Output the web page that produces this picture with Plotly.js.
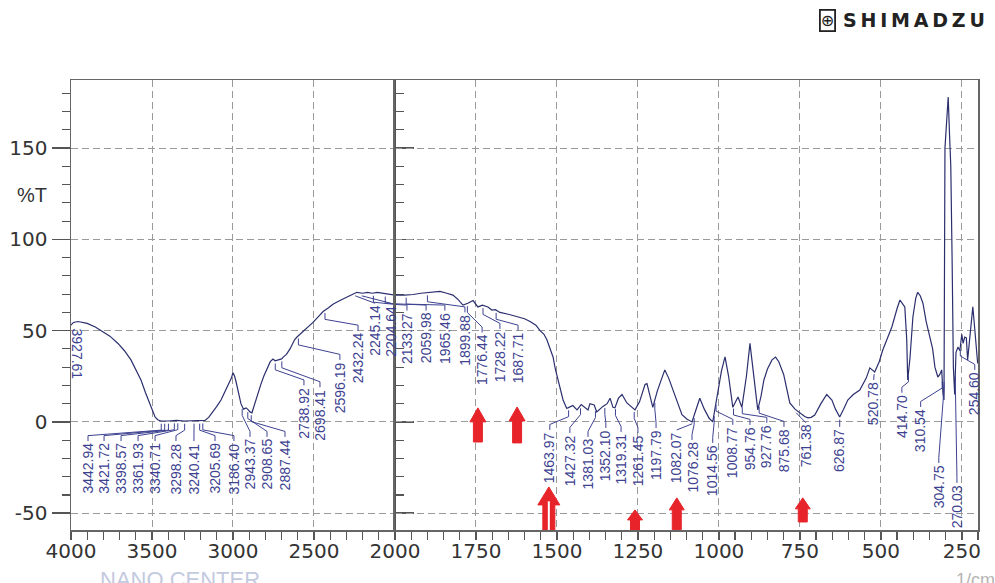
<!DOCTYPE html>
<html><head><meta charset="utf-8">
<script src="https://cdn.plot.ly/plotly-3.0.1.min.js"></script>
<style>html,body{margin:0;padding:0;background:#fff}#chart{width:995px;height:583px}</style>
</head><body><div id="chart"></div>
<script>
// ---- spectrum (wavenumber 1/cm, %T) ----
const wavenumber = [4000,3985,3957,3900,3850,3815,3760,3710,3670,3630,3600,3568,3540,3512,3495,3481,3465,3444,3400,3350,3300,3250,3200,3173,3150,3136,3100,3074,3040,3010,3000,2990,2981,2965,2951,2935,2920,2910,2895,2883,2870,2850,2830,2810,2790,2770,2753,2740,2720,2700,2690,2670,2648,2620,2605,2586,2560,2530,2506,2470,2444,2410,2383,2340,2300,2270,2235,2200,2170,2140,2110,2080,2050,2020,2000,
1970,1944,1920,1890,1861,1840,1821,1805,1790,1775,1759,1744,1730,1713,1701,1690,1676,1650,1630,1614,1600,1583,1565,1552,1540,1531,1520,1512,1505,1497,1490,1481,1470,1466,1451,1438,1425,1415,1404,1398,1385,1377,1358,1345,1336,1327,1321,1310,1299,1284,1259,1245,1228,1222,1210,1204,1190,1167,1155,1142,1130,1114,1098,1083,1072,1059,1045,1030,1019,1005,992,981,970,957,950,941,929,915,904,895,880,870,861,850,836,825,815,800,781,765,750,735,725,715,704,685,667,651,640,627,615,602,585,565,545,534,519,505,494,480,466,450,441,430,426,420,417,410,401,392,386,378,370,360,349,340,333,324,318,312,308,305,302,298,292,288,284,280,276,272,268,262,256,250,246,241,236,232,226,221,216,212,208,204,201];
const transmittance = [53,54.5,55,54,52,50,47,43,39,34,29,23,16,10,5.5,2.7,1.2,0.5,0.5,0.8,0.5,0.6,0.5,0.8,2.5,4,8.5,12,18,24,27,25,22,15,10,7,7.7,7,5.5,5,9,15,20,25,29,33,34.5,33.5,34,34.5,35.5,37,40,45,46.5,48,50,52.5,54.5,58,60.5,62.5,64.5,66.5,68,69.5,71,70.5,71,70.5,71,70.5,70,69.5,69.5,
69.5,69.8,70.5,71,71.5,70.5,69.5,67,64,65,66.5,63,64,63,61.3,61.5,60,59,58,57,56.5,55,53,50,48,45,40,35.6,29,23,17,12,7.5,7.7,9,6.6,9.5,8,6.6,10,9.3,5.5,8.5,10,13,8,7.7,13,15,10.4,6.6,11,20.5,21,12,8,17,28.5,24,17.5,12,4,1.5,0,6,13,7,2,0,15,28,35.6,25,8,10.5,13.7,8,25,43,28,6.6,14,23,29,34,35.5,33,26,10.4,7,5,3,2.2,2.5,3.8,10,15,12,7,2.7,7,12,15,17.5,24,29.6,27.4,33,39.4,46,52,62,66.8,64,63,45,23,35,57.5,68,71,69,65,55,46.5,40,30,24.6,26,28.5,15,12,150,160,178,158,140,90,30,15,38,41,39,48,43,46.5,46,34,45,50,63,55,45,40,32];

// ---- peak labels ----
const peakLabels = ["3927.61","3442.94","3421.72","3398.57","3361.93","3340.71","3298.28","3240.41","3205.69","3186.40","2943.37","2908.65","2887.44","2738.92","2698.41","2596.19","2432.24","2245.14","2204.64","2133.27","2059.98","1965.46","1899.88","1776.44","1728.22","1687.71","1463.97","1427.32","1381.03","1352.10","1319.31","1261.45","1197.79","1082.07","1076.28","1014.56","1008.77","954.76","927.76","875.68","761.38","626.87","520.78","414.70","310.54","304.75","270.03","254.60"];

// ---- axis ticks ----
const xTicksHigh = [4000,3500,3000,2500];
const xTicksLow = [2000,1750,1500,1250,1000,750,500,250];
const yTicks = [-50,0,50,100,150];

// ---- label placement (where each rotated label sits: wavenumber of its centre, %T of its top end) ----
const labelWn = [3957,3895,3796,3691,3586,3481,3352,3241,3111,2994,2895,2790,2679,2562,2463,2340,2228,2123,2025,1963,1904,1846,1784,1731,1676,1620,1522,1460,1404,1349,1302,1250,1194,1130,1083,1019,957,904,852,799,731,627,522,435,377,321,265,210];
const labelTop = [52,-10.5,-10.5,-10.5,-10.5,-10.5,-10.5,-10.5,-10.5,-10.5,-8.2,-8.2,-8.2,20,19,34,50,65,65,61,61,61,60,49,51,50,-4.4,-6,-8.2,-3.3,-5.5,-6,-3.3,-4.4,-9.9,-11.5,-1.6,-1.6,-0.5,-2.7,-0.5,-2.7,23,16,8.2,-22.5,-33.4,28.5];

// ---- red marker arrows: [centre wn, tip %T, base %T, head px, body px, head-height px, hollow] ----
const arrowSpecs = [
  [1744, 7.7, -11, 16, 9, 14, false],
  [1623, 8.2, -11.5, 16, 9, 14, false],
  [1525, -35.6, -59.2, 22, 12, 18, true],
  [1259, -48.2, -59.2, 15, 9, 10, false],
  [1130, -41.6, -59, 15, 9, 12, false],
  [741, -41.6, -54.8, 15, 9, 11, false]
];

const LINE = '#2b2f6e', LABEL = '#3d4290', RED = '#e8242b';
const WN_PER_PX_LOW = 1/0.3239, T_PER_PX = 1/1.826;

function tAt(w){
  for(let i=0;i<wavenumber.length-1;i++){
    const a=wavenumber[i], b=wavenumber[i+1];
    if(a>=w && b<=w){ const f=(a-w)/(a-b); return transmittance[i]+f*(transmittance[i+1]-transmittance[i]); }
  }
  return transmittance[transmittance.length-1];
}

// leaders
const lx=[], ly=[];
for(let i=1;i<peakLabels.length;i++){
  const w=parseFloat(peakLabels[i]);
  const tc=tAt(w);
  const lw=labelWn[i], lt=labelTop[i];
  if(lt+8>tc){
    lx.push(w,lw,null); ly.push(tc-1.5,lt,null);
  } else {
    lx.push(w,w,lw,lw,null); ly.push(tc-1.5,tc-5,lt+3,lt,null);
  }
}

const traces=[];
['x','x2'].forEach(xa=>{
  traces.push({x:wavenumber,y:transmittance,xaxis:xa,yaxis:'y',mode:'lines',line:{color:LINE,width:1.2},hoverinfo:'skip'});
  traces.push({x:lx,y:ly,xaxis:xa,yaxis:'y',mode:'lines',line:{color:LABEL,width:1},connectgaps:false,hoverinfo:'skip'});
});

const annotations=[];
peakLabels.forEach((s,i)=>{
  const first = i===0;
  annotations.push({text:s,x:labelWn[i],y:labelTop[i],xref:labelWn[i]>=2000?'x':'x2',yref:'y',
    showarrow:false,textangle:first?90:-90,xanchor:'center',yanchor:'top',
    font:{family:'Liberation Sans, Arial, sans-serif',size:14,color:LABEL}});
});
annotations.push({text:'%T',xref:'paper',yref:'paper',x:-0.043,y:0.744,showarrow:false,xanchor:'center',yanchor:'middle',font:{family:'Liberation Sans, Arial, sans-serif',size:20,color:'#333'}});
annotations.push({text:'NANO CENTER',xref:'paper',yref:'paper',x:0.030,y:-0.078,showarrow:false,xanchor:'left',yanchor:'top',font:{family:'Liberation Sans, Arial, sans-serif',size:22,color:'#c3c9de'}});
annotations.push({text:'1/cm',xref:'paper',yref:'paper',x:0.973,y:-0.085,showarrow:false,xanchor:'left',yanchor:'top',font:{family:'Liberation Sans, Arial, sans-serif',size:18,color:'#b5b5b5'}});
annotations.push({text:'⊕',xref:'paper',yref:'paper',x:0.8346,y:1.133,showarrow:false,xanchor:'center',yanchor:'middle',bordercolor:'#222',borderwidth:1.8,borderpad:0,font:{family:'DejaVu Sans',size:16,color:'#222'}});
annotations.push({text:'S\u2009H\u2009I\u2009M\u2009A\u2009D\u2009Z\u2009U',xref:'paper',yref:'paper',x:0.849,y:1.133,showarrow:false,xanchor:'left',yanchor:'middle',font:{family:'DejaVu Sans',size:19,weight:700,color:'#222'}});

const shapes=[];
shapes.push({type:'line',xref:'x2',yref:'paper',x0:2000,x1:2000,y0:0,y1:1,line:{color:'#555',width:2},layer:'above'});
arrowSpecs.forEach(a=>{
  const [c,tip,base,hw,bw,hh,hollow]=a;
  const H=hw/2*WN_PER_PX_LOW, B=bw/2*WN_PER_PX_LOW, neck=tip-hh*T_PER_PX;
  const p=`M ${c} ${tip} L ${c+H} ${neck} L ${c+B} ${neck} L ${c+B} ${base} L ${c-B} ${base} L ${c-B} ${neck} L ${c-H} ${neck} Z`;
  shapes.push({type:'path',xref:'x2',yref:'y',path:p,fillcolor:RED,line:{color:RED,width:1},layer:'above'});
  if(hollow){
    shapes.push({type:'line',xref:'x2',yref:'y',x0:c,x1:c,y0:base,y1:neck+2,line:{color:'#fff',width:2},layer:'above'});
  }
});

const tickFont={family:'DejaVu Sans, Liberation Sans, sans-serif',size:20,color:'#333'};
const common={ticks:'outside',tickwidth:1.5,tickcolor:'#555',showline:true,linecolor:'#666',linewidth:1.5,
  showgrid:true,gridcolor:'#9a9a9a',griddash:'7px,4px',gridwidth:1,zeroline:false,tickfont:tickFont,fixedrange:true};

const layout={
  width:995,height:583,margin:{l:71,r:17,t:80,b:53},
  paper_bgcolor:'#fff',plot_bgcolor:'#fff',showlegend:false,hovermode:false,
  font:{family:'Liberation Sans, Arial, sans-serif',color:'#333'},
  xaxis:Object.assign({},common,{domain:[0,0.3572],range:[4000,2000],anchor:'y',tickmode:'array',tickvals:xTicksHigh,ticktext:xTicksHigh.map(String),ticklen:8,mirror:true,ticklabelstandoff:-6,
    minor:{tick0:0,dtick:100,ticks:'outside',ticklen:8,tickwidth:1.2,tickcolor:'#555',showgrid:false}}),
  xaxis2:Object.assign({},common,{domain:[0.3572,1],range:[2000,200],anchor:'y',tickmode:'array',tickvals:xTicksLow,ticktext:xTicksLow.map(String),ticklen:8,mirror:true,ticklabelstandoff:-6,
    minor:{tick0:0,dtick:50,ticks:'outside',ticklen:8,tickwidth:1.2,tickcolor:'#555',showgrid:false}}),
  yaxis:Object.assign({},common,{range:[-59.2,187.3],anchor:'x',tickmode:'array',tickvals:yTicks,ticktext:yTicks.map(String),ticklen:18,mirror:'all',
    minor:{tick0:0,dtick:10,ticks:'outside',ticklen:8,tickwidth:1.2,tickcolor:'#555',showgrid:false}}),
  annotations:annotations,shapes:shapes
};
Plotly.newPlot('chart',traces,layout,{staticPlot:true,displayModeBar:false});
</script></body></html>
